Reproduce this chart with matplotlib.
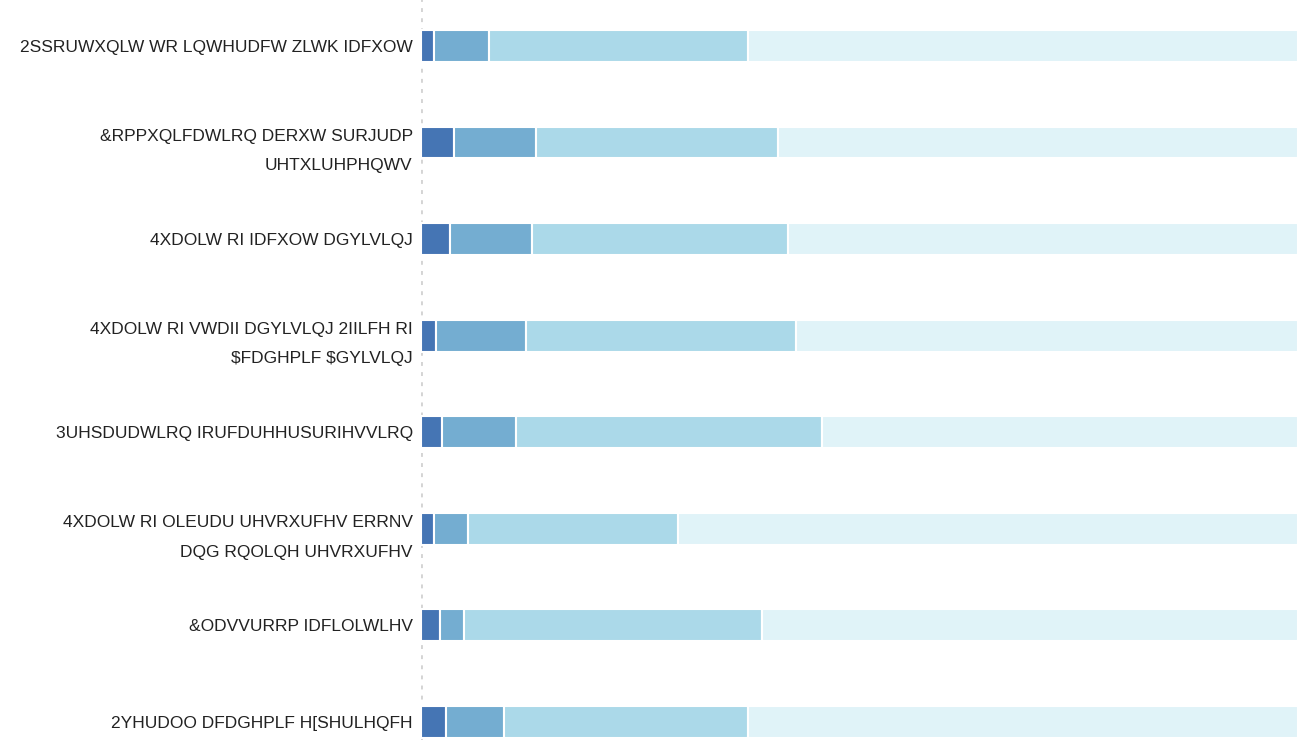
import numpy as np
import matplotlib.pyplot as plt

etiquetas = [
    "2SSRUWXQLW WR LQWHUDFW ZLWK IDFXOW",
    "&RPPXQLFDWLRQ DERXW SURJUDP\nUHTXLUHPHQWV",
    "4XDOLW RI IDFXOW DGYLVLQJ",
    "4XDOLW RI VWDII DGYLVLQJ 2IILFH RI\n\\$FDGHPLF \\$GYLVLQJ",
    "3UHSDUDWLRQ IRUFDUHHUSURIHVVLRQ",
    "4XDOLW RI OLEUDU UHVRXUFHV ERRNV\nDQG RQOLQH UHVRXUFHV",
    "&ODVVURRP IDFLOLWLHV",
    "2YHUDOO DFDGHPLF H[SHULHQFH",
]
# porcentajes por nivel (de menor a mayor)
nivel1 = [1.5, 3.8, 3.3, 1.7, 2.4, 1.5, 2.2, 2.9]
nivel2 = [6.2, 9.3, 9.4, 10.3, 8.4, 3.9, 2.7, 6.6]
nivel3 = [29.6, 27.6, 29.2, 30.8, 34.9, 23.9, 34.0, 27.8]
nivel4 = [62.7, 59.3, 58.1, 57.2, 54.3, 70.7, 61.1, 62.7]
colores = ['#4575b4', '#74add1', '#abd9e9', '#e0f3f8']

fig = plt.figure(figsize=(13.02, 7.40), dpi=100)
ax = fig.add_axes([421/1302, 0, 877/1302, 1])

y = np.arange(len(etiquetas))
izq = np.zeros(len(etiquetas))
for vals, c in zip([nivel1, nivel2, nivel3, nivel4], colores):
    ax.barh(y, vals, left=izq, height=0.33, color=c, edgecolor='white', linewidth=1.5)
    izq = izq + np.array(vals)

ax.set_xlim(0, izq.max())
ax.set_ylim(7.19, -0.477)
ax.set_yticks(y)
ax.set_yticklabels(etiquetas, fontsize=12.5, color='#222222',
                   family='Liberation Sans', linespacing=2.2)
ax.tick_params(axis='y', length=0, pad=6)
ax.set_xticks([])
for s in ax.spines.values():
    s.set_visible(False)
ax.axvline(0, color='#d4d4d4', linewidth=2.8, linestyle=(0, (1, 1.6)), zorder=0)

plt.savefig('out.png')
